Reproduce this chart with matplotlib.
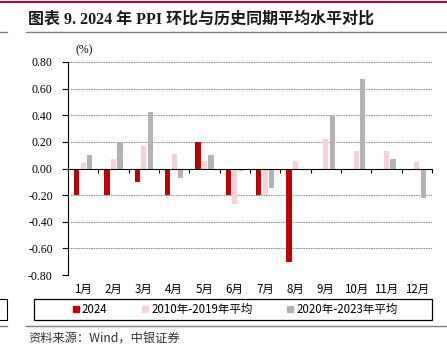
import matplotlib

matplotlib.use("Agg")
import matplotlib.pyplot as plt
import numpy as np
from matplotlib.lines import Line2D
from matplotlib.patches import Rectangle

months = ["1月", "2月", "3月", "4月", "5月", "6月",
          "7月", "8月", "9月", "10月", "11月", "12月"]
v2024 = [-0.20, -0.20, -0.10, -0.20, 0.20, -0.20, -0.20, -0.70, 0.0, 0.0, 0.0, 0.0]
avg_2010_2019 = [0.04, 0.07, 0.17, 0.11, 0.06, -0.27, -0.20, 0.055, 0.22, 0.13, 0.13, 0.05]
avg_2020_2023 = [0.10, 0.20, 0.425, -0.07, 0.10, -0.02, -0.15, 0.0, 0.40, 0.675, 0.075, -0.22]
yticks = [0.80, 0.60, 0.40, 0.20, 0.00, -0.20, -0.40, -0.60, -0.80]
series_labels = ["2024", "2010年-2019年平均", "2020年-2023年平均"]

C_RED = "#c00000"
C_PINK = "#f8d0d6"
C_GRAY = "#b3b3b3"
SERIF = ["Liberation Serif", "Noto Sans CJK SC"]
CJK = ["Noto Sans CJK SC", "DejaVu Sans"]

fig = plt.figure(figsize=(4.47, 3.49), dpi=100)
fig.patch.set_facecolor("white")

W, H = 447.0, 349.0


def fx(px):
    return px / W


def fy(py):
    return 1 - py / H


# ---- decorative page lines
fig.add_artist(Line2D([0, 1], [fy(1.5), fy(1.5)], color="#c0001f", lw=1.4))
fig.add_artist(Line2D([fx(26), 1], [fy(32), fy(32)], color="#7f7f7f", lw=1.0))
fig.add_artist(Line2D([0, fx(7)], [fy(32), fy(32)], color="#7f7f7f", lw=1.0))
fig.add_artist(Line2D([fx(26), 1], [fy(325.5), fy(325.5)], color="#7f7f7f", lw=1.0))
fig.add_artist(Line2D([0, fx(7)], [fy(325.5), fy(325.5)], color="#7f7f7f", lw=1.0))
fig.add_artist(Line2D([0, fx(7), fx(7), 0], [fy(299), fy(299), fy(320), fy(320)],
                      color="black", lw=0.8))

fig.text(fx(28), fy(20), "图表 9. 2024 年 PPI 环比与历史同期平均水平对比",
         fontsize=11.5, fontweight="bold", family=SERIF, ha="left", va="center",
         color="#1a1a1a")
fig.text(fx(28), fy(338), "资料来源：Wind，中银证券", fontsize=8.8,
         family=CJK, style="italic", ha="left", va="center", color="#333333")

# ---- axes
ax = fig.add_axes([fx(68), fy(275), fx(364), (275 - 62) / H])
x = np.arange(len(months))
bw, off = 0.175, 0.215
ax.bar(x - off, v2024, bw, color=C_RED, zorder=3)
ax.bar(x, avg_2010_2019, bw, color=C_PINK, zorder=3)
ax.bar(x + off, avg_2020_2023, bw, color=C_GRAY, zorder=3)

ax.set_xlim(-0.5, len(months) - 0.5)
ax.set_ylim(-0.8, 0.8)
ax.set_yticks(yticks)
ax.set_yticklabels([f"{v:.2f}" for v in yticks], family=SERIF, fontsize=8.5)
for v in yticks:
    if v != 0:
        ax.axhline(v, color="#7f7f7f", lw=0.6, ls=(0, (2, 1)), zorder=1)

for s in ["top", "right"]:
    ax.spines[s].set_visible(False)
ax.spines["left"].set_color("black")
ax.spines["left"].set_linewidth(0.8)
ax.spines["bottom"].set_position(("data", 0))
ax.spines["bottom"].set_color("black")
ax.spines["bottom"].set_linewidth(0.8)
ax.spines["bottom"].set_zorder(4)
ax.tick_params(axis="y", direction="out", length=4, width=0.8, pad=7)
ax.set_xticks(np.arange(0.5, len(months), 1.0))
ax.set_xticklabels([])
ax.tick_params(axis="x", direction="out", length=3, width=0.8)
for i, m in enumerate(months):
    ax.text(i, -0.035, m, transform=ax.get_xaxis_transform(), ha="center",
            va="top", fontsize=8.3, family=CJK)

ax.text(0.02, 1.055, "(%)", transform=ax.transAxes, fontsize=8.5, family=SERIF,
        ha="left", va="center")

# ---- legend
fig.add_artist(Rectangle((fx(34), fy(320)), fx(398), 21 / H, fill=False,
                         ec="black", lw=0.9))
handles = [Line2D([0], [0], marker="s", color="none", markerfacecolor=c,
                  markeredgecolor=c, markersize=4.5)
           for c in (C_RED, C_PINK, C_GRAY)]
fig.legend(handles, series_labels, loc="center", bbox_to_anchor=(fx(235), fy(309.5)),
           ncol=3, frameon=False, prop={"family": CJK, "size": 8.3},
           handlelength=0.6, handletextpad=0.2, columnspacing=3.0,
           borderpad=0.2)

fig.savefig("out.png", dpi=100, facecolor="white")
